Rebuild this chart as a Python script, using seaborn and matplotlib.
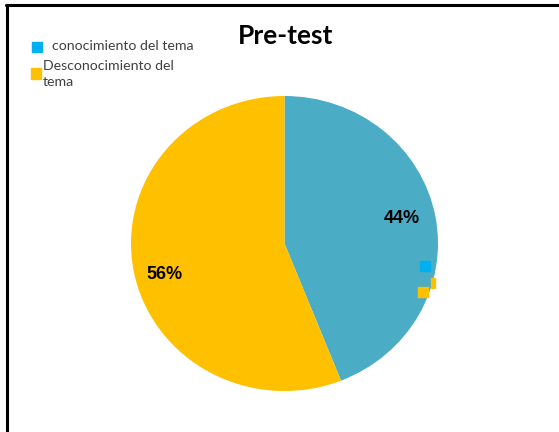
import matplotlib
matplotlib.use("Agg")
import matplotlib.pyplot as plt
import seaborn as sns
from matplotlib.patches import Rectangle
from matplotlib.lines import Line2D

sns.set_theme(style="white")

categories = ["conocimiento del tema", "Desconocimiento del\ntema"]
values = [44, 56]
slice_colors = ["#4BACC6", "#FFC000"]
legend_colors = ["#00B0F0", "#FFC000"]
title = "Pre-test"

W, H = 559, 432
fig = plt.figure(figsize=(W / 100, H / 100), dpi=100)
fig.patch.set_facecolor("white")

def px(x, y):
    return x / W, 1 - y / H

# pie axes: centre (284.5, 243.5) px, slightly flattened ellipse
cx, cy, rx, ry = 284.5, 243.5, 153.5, 147.5
ax = fig.add_axes([(cx - rx) / W, (H - cy - ry) / H, 2 * rx / W, 2 * ry / H])
wedges, texts, autotexts = ax.pie(
    values, colors=slice_colors, startangle=90, counterclock=False,
    autopct=lambda p: f"{p:.0f}%", pctdistance=0.78,
    wedgeprops=dict(linewidth=0),
    textprops=dict(fontsize=13, fontweight="bold", color="black",
                   family="Liberation Sans"),
)
# nudge the value labels a little
autotexts[0].set_position((0.765, 0.17))
autotexts[1].set_position((-0.785, -0.21))
ax.set_aspect("auto")
ax.set_xlim(-1, 1)
ax.set_ylim(-1, 1)
ax.axis("off")

# title
fig.text(*px(286, 36), title, ha="center", va="center",
         fontsize=19, fontweight="bold", family="Lato", color="black")

# legend
sq = [(32, 42, 10, 10), (31, 68, 10, 11)]
txt = [(52, 46), (43, 74)]
for (x, y, w, h), col, (tx, ty), lab in zip(sq, legend_colors, txt, categories):
    fig.patches.append(Rectangle(px(x, y + h), w / W, h / H, color=col,
                                 transform=fig.transFigure, figure=fig))
    fig.text(*px(tx, ty), lab, ha="left", va="center", fontsize=10.2,
             family="Lato", color="#404040", linespacing=1.45)

# small detached legend keys at the pie edge
for (x, y, w, h), col in [((420, 261, 10, 10), legend_colors[0]),
                          ((418, 287, 10, 10), legend_colors[1]),
                          ((431, 278, 4, 10), legend_colors[1])]:
    fig.patches.append(Rectangle(px(x, y + h), w / W, h / H, color=col,
                                 transform=fig.transFigure, figure=fig, zorder=5))

# frame lines on top and left
fig.lines.append(Line2D([px(6, 5)[0], 1], [px(6, 5)[1]] * 2, color="black",
                        linewidth=2.2, transform=fig.transFigure, figure=fig))
fig.lines.append(Line2D([px(7, 5)[0]] * 2, [px(7, 5)[1], 0], color="black",
                        linewidth=2.2, transform=fig.transFigure, figure=fig))

fig.savefig("out.png", dpi=100, facecolor="white")
